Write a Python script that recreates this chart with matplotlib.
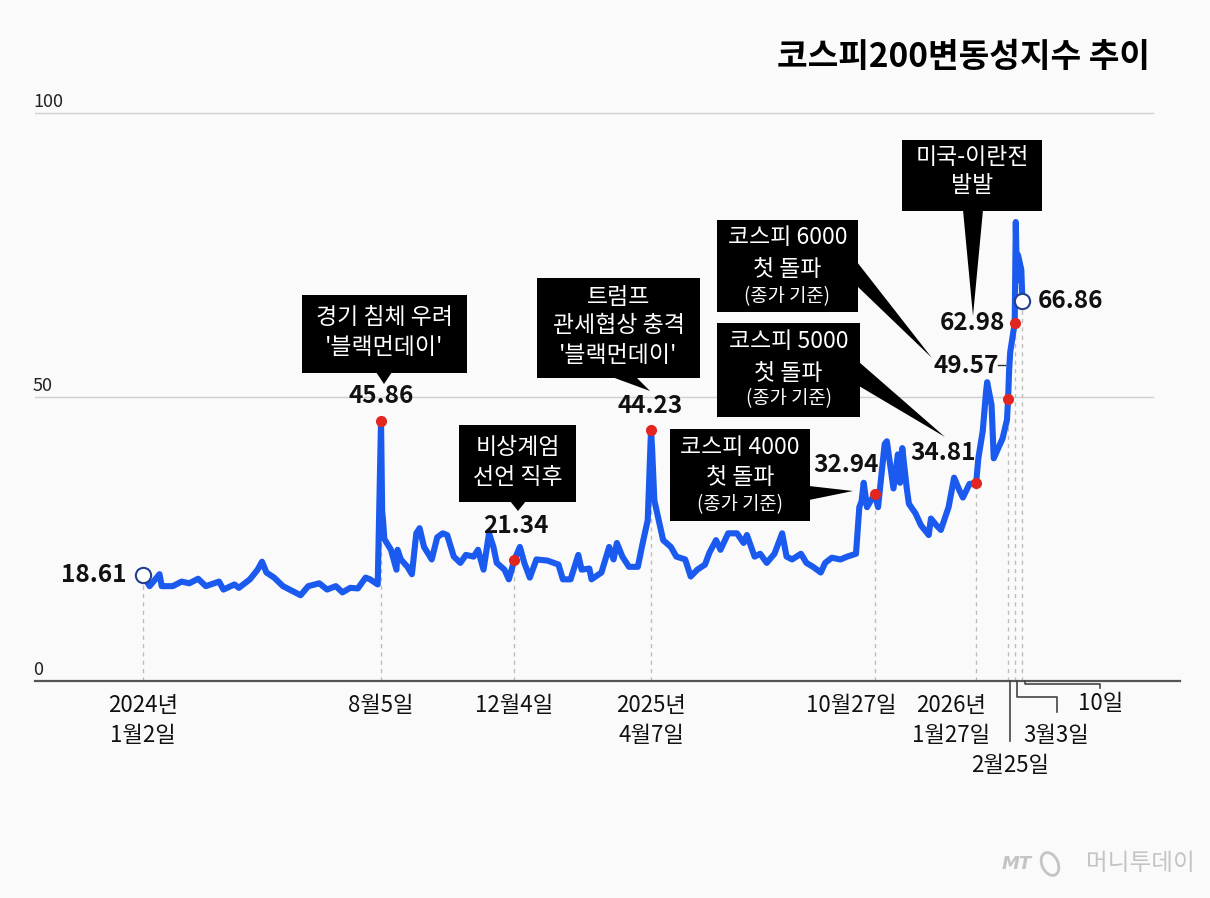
import pandas as pd
import matplotlib
matplotlib.use("Agg")
import matplotlib.pyplot as plt
import matplotlib.dates as mdates
from matplotlib.patches import Rectangle, Polygon, Ellipse

plt.rcParams['font.family'] = ['Noto Sans CJK KR', 'DejaVu Sans']

W, H = 1210, 898
BG = "#fafafa"
BLUE = "#1a5aee"
RED = "#e3261f"

title = "코스피200변동성지수 추이"

# 코스피200 변동성지수 (읽은 값)
dates = [
    "2024-01-02", "2024-01-08", "2024-01-17", "2024-01-19", "2024-01-29", "2024-02-06",
    "2024-02-13", "2024-02-21", "2024-02-28", "2024-03-11", "2024-03-15", "2024-03-25",
    "2024-03-29", "2024-04-08", "2024-04-15", "2024-04-19", "2024-04-23", "2024-04-30",
    "2024-05-08", "2024-05-17", "2024-05-24", "2024-05-31", "2024-06-10", "2024-06-17",
    "2024-06-25", "2024-07-01", "2024-07-08", "2024-07-15", "2024-07-22", "2024-07-26",
    "2024-08-02", "2024-08-05", "2024-08-06", "2024-08-07", "2024-08-08", "2024-08-14",
    "2024-08-19", "2024-08-20", "2024-08-23", "2024-08-29", "2024-09-02", "2024-09-06",
    "2024-09-09", "2024-09-13", "2024-09-20", "2024-09-25", "2024-09-30", "2024-10-04",
    "2024-10-10", "2024-10-16", "2024-10-21", "2024-10-28", "2024-11-01", "2024-11-06",
    "2024-11-11", "2024-11-15", "2024-11-18", "2024-11-25", "2024-11-29", "2024-12-04",
    "2024-12-09", "2024-12-13", "2024-12-18", "2024-12-24",
    "2025-01-03", "2025-01-13", "2025-01-17", "2025-01-24", "2025-01-31", "2025-02-03",
    "2025-02-10", "2025-02-12", "2025-02-21", "2025-02-28", "2025-03-04", "2025-03-07",
    "2025-03-12", "2025-03-18", "2025-03-26", "2025-03-31", "2025-04-04", "2025-04-07",
    "2025-04-08", "2025-04-10", "2025-04-14", "2025-04-18", "2025-04-25", "2025-04-30",
    "2025-05-08", "2025-05-13", "2025-05-19", "2025-05-26", "2025-05-30", "2025-06-05",
    "2025-06-09", "2025-06-16", "2025-06-24", "2025-06-30", "2025-07-03", "2025-07-10",
    "2025-07-15", "2025-07-21", "2025-07-28", "2025-08-04", "2025-08-08", "2025-08-13",
    "2025-08-21", "2025-08-26", "2025-09-01", "2025-09-08", "2025-09-12", "2025-09-18",
    "2025-09-26", "2025-10-02", "2025-10-10", "2025-10-13", "2025-10-15", "2025-10-17",
    "2025-10-20", "2025-10-23", "2025-10-27", "2025-10-30", "2025-11-05", "2025-11-07",
    "2025-11-13", "2025-11-17", "2025-11-19", "2025-11-21", "2025-11-25", "2025-11-27",
    "2025-12-03", "2025-12-08", "2025-12-15", "2025-12-17", "2025-12-22", "2025-12-26",
    "2026-01-02", "2026-01-07", "2026-01-12", "2026-01-15", "2026-01-21", "2026-01-27",
    "2026-01-29", "2026-02-02", "2026-02-05", "2026-02-06", "2026-02-10", "2026-02-12",
    "2026-02-20", "2026-02-24", "2026-02-25", "2026-02-26", "2026-02-27", "2026-03-03",
    "2026-03-04", "2026-03-05", "2026-03-06", "2026-03-09", "2026-03-10",
]
values = [
    18.61, 16.7, 18.8, 16.7, 16.7, 17.5,
    17.2, 18.0, 16.7, 17.5, 16.1, 17.0,
    16.4, 17.9, 19.6, 21.0, 19.1, 18.2,
    16.7, 15.8, 15.1, 16.7, 17.2, 16.1,
    16.7, 15.6, 16.4, 16.3, 18.2, 17.9,
    17.0, 45.86, 30.0, 27.8, 25.0, 23.1,
    19.6, 23.1, 21.4, 20.1, 18.8, 26.0,
    26.9, 23.6, 21.4, 25.3, 26.0, 25.7,
    21.9, 20.8, 22.2, 21.9, 23.1, 19.6,
    26.0, 23.6, 20.8, 19.6, 17.9, 21.34,
    23.6, 20.8, 18.2, 21.4,
    21.2, 20.5, 17.9, 17.9, 22.2, 19.6,
    19.8, 17.9, 19.1, 23.6, 21.4, 24.3,
    21.9, 20.1, 20.1, 24.8, 28.3, 44.23,
    40.8, 31.8, 28.3, 24.8, 23.6, 21.9,
    21.4, 18.4, 19.6, 20.5, 22.6, 24.8,
    23.1, 26.0, 26.0, 24.3, 25.7, 21.9,
    22.4, 20.8, 22.4, 26.0, 21.9, 21.4,
    22.4, 20.8, 20.1, 19.1, 20.8, 21.7,
    21.4, 21.9, 22.4, 30.6, 31.6, 34.9,
    30.6, 31.6, 32.94, 30.6, 41.7, 42.2,
    33.9, 39.9, 34.9, 41.0, 34.0, 31.2,
    29.5, 27.4, 25.7, 28.6, 27.4, 26.6,
    30.6, 35.8, 33.5, 32.3, 34.7, 34.81,
    39.2, 44.0, 50.9, 52.6, 48.6, 39.2,
    42.7, 46.0, 49.57, 55.0, 58.0, 62.98,
    80.8, 70.5, 75.0, 72.4, 66.86,
]

event_days = ["2024-08-05", "2024-12-04", "2025-04-07", "2025-10-27",
              "2026-01-27", "2026-02-25", "2026-03-03"]

s = pd.Series(values, index=pd.to_datetime(dates))

fig = plt.figure(figsize=(W / 100, H / 100), dpi=100, facecolor=BG)
ax = fig.add_axes([35 / W, 1 - 681 / H, 1145 / W, (681 - 20) / H])
ax.set_facecolor(BG)
t0 = s.index[0]
ax.set_xlim(t0 - pd.Timedelta(days=98), t0 + pd.Timedelta(days=941))
ax.set_ylim(0, (681 - 20) / 5.68)
for sp in ["top", "right", "left"]:
    ax.spines[sp].set_visible(False)
ax.spines["bottom"].set_color("#555555")
ax.spines["bottom"].set_linewidth(1.6)
ax.set_xticks([])
ax.set_yticks([])
for g in [50, 100]:
    ax.axhline(g, xmin=0, xmax=(1153 - 35) / 1145, color="#cfcfcf", lw=1, zorder=1)

marks = pd.to_datetime([dates[0]] + event_days + [dates[-1]])
ax.vlines(marks, 0, s.loc[marks].values, colors="#bdbdbd",
          linestyles=(0, (3, 3)), lw=1, zorder=1)

ax.plot(s.index, s.values, color=BLUE, lw=4.4, solid_joinstyle="round",
        solid_capstyle="round", zorder=3)
ev = pd.to_datetime(event_days)
ax.plot(ev, s.loc[ev].values, "o", ms=7, color=RED, mec=RED, zorder=4)
ends = s.index[[0, -1]]
ax.plot(ends, s.loc[ends].values, "o", ms=11, mfc="white", mec="#23408f",
        mew=1.5, zorder=5)

# overlay in pixel units (top-left origin) for annotations
ov = fig.add_axes([0, 0, 1, 1], zorder=10)
ov.set_xlim(0, W)
ov.set_ylim(H, 0)
ov.axis("off")
ov.patch.set_visible(False)


def to_px(d, v):
    x, y = ax.transData.transform((mdates.date2num(pd.Timestamp(d)), v))
    return x, H - y


ov.text(1150, 57, title, ha="right", va="center", fontsize=24, fontweight="heavy")

for g in [0, 50, 100]:
    _, gy = to_px(t0, g)
    ov.text(33, gy - 11, str(g), ha="left", va="center", fontsize=13, color="#222222")

# value labels: (date, dx, dy, ha)
value_labels = [
    (dates[0], -16, 0, "right"),
    ("2024-08-05", 0, -25, "center"),
    ("2024-12-04", 1, -34, "center"),
    ("2025-04-07", -1, -24, "center"),
    ("2025-10-27", -29, -29, "center"),
    ("2026-01-27", -33, -30, "center"),
    ("2026-02-25", -42, -33, "center"),
    ("2026-03-03", -42, 0, "center"),
    (dates[-1], 15, 0, "left"),
]
for d, dx, dy, ha in value_labels:
    v = s.loc[pd.Timestamp(d)]
    x, y = to_px(d, v)
    ov.text(x + dx, y + dy, f"{v:.2f}", ha=ha, va="center", fontsize=17.5,
            fontweight="bold", color="#111111")

# small dash after 49.57
x, y = to_px("2026-02-25", s.loc[pd.Timestamp("2026-02-25")])
ov.plot([x - 10, x - 3], [y - 34, y - 34], color="#333333", lw=1)

# annotation boxes: (x0, y0, x1, y1, lines, pointer)
boxes = [
    (302, 295, 467, 373, [("경기 침체 우려", 16.5, 318), ("'블랙먼데이'", 16.5, 347)],
     [(376, 372), (392, 372), (384, 384)]),
    (459, 425, 576, 502, [("비상계엄", 16.5, 447), ("선언 직후", 16.5, 478)],
     [(510, 501), (526, 501), (518, 511)]),
    (537, 278, 700, 378, [("트럼프", 16.5, 297), ("관세협상 충격", 16.5, 325),
                          ("'블랙먼데이'", 16.5, 355)],
     [(612, 377), (636, 377), (650, 391)]),
    (670, 429, 810, 521, [("코스피 4000", 16.5, 447), ("첫 돌파", 16.5, 477),
                          ("(종가 기준)", 13.5, 505)],
     [(809, 486), (809, 500), (853, 491)]),
    (717, 323, 860, 417, [("코스피 5000", 16.5, 342), ("첫 돌파", 16.5, 373),
                          ("(종가 기준)", 13.5, 399)],
     [(859, 362), (859, 386), (945, 437)]),
    (717, 220, 858, 312, [("코스피 6000", 16.5, 238), ("첫 돌파", 16.5, 270),
                          ("(종가 기준)", 13.5, 297)],
     [(857, 262), (857, 286), (932, 358)]),
    (902, 140, 1042, 211, [("미국-이란전", 16.5, 157), ("발발", 16.5, 185)],
     [(963, 210), (983, 210), (973, 316)]),
]
for x0, y0, x1, y1, lines, ptr in boxes:
    ov.add_patch(Rectangle((x0, y0), x1 - x0, y1 - y0, facecolor="black",
                           edgecolor="none", zorder=2))
    ov.add_patch(Polygon(ptr, closed=True, facecolor="black", edgecolor="none", zorder=2))
    for txt, fs, ty in lines:
        ov.text((x0 + x1) / 2, ty, txt, ha="center", va="center", fontsize=fs,
                color="white", zorder=3)

# x labels under baseline
tick_labels = [
    (dates[0], 0, ["2024년", "1월2일"]),
    ("2024-08-05", 0, ["8월5일"]),
    ("2024-12-04", 0, ["12월4일"]),
    ("2025-04-07", 0, ["2025년", "4월7일"]),
    ("2025-10-27", -23, ["10월27일"]),
    ("2026-01-27", -25, ["2026년", "1월27일"]),
]
for d, dx, lines in tick_labels:
    x, y = to_px(d, 0)
    for i, txt in enumerate(lines):
        ov.text(x + dx, y + 25 + 30 * i, txt, ha="center", va="center",
                fontsize=16, color="#111111")

lead = "#444444"
x, y = to_px("2026-02-25", 0)
ov.plot([x + 2, x + 2], [y, y + 60], color=lead, lw=1.2)
ov.text(x + 2, y + 85, "2월25일", ha="center", va="center", fontsize=16, color="#111111")

x, y = to_px("2026-03-03", 0)
ov.plot([x + 2, x + 2, x + 42, x + 42], [y, y + 16, y + 16, y + 31], color=lead, lw=1.2)
ov.text(x + 41, y + 54, "3월3일", ha="center", va="center", fontsize=16, color="#111111")

x, y = to_px("2026-03-10", 0)
ov.plot([x + 3, x + 3, x + 78, x + 78], [y, y + 3, y + 3, y + 7], color=lead, lw=1.2)
ov.text(x + 78, y + 23, "10일", ha="center", va="center", fontsize=16, color="#111111")

# watermark
wm = "#c4c4c4"
ov.text(1002, 864, "MT", ha="left", va="center", fontsize=13, fontweight="bold",
        style="italic", color=wm, family="DejaVu Sans")
ov.add_patch(Ellipse((1050, 864), 16, 24, angle=-25, facecolor="none",
                     edgecolor=wm, lw=2))
ov.text(1195, 864, "머니투데이", ha="right", va="center", fontsize=17, color=wm)

fig.savefig("out.png", dpi=100, facecolor=BG)
